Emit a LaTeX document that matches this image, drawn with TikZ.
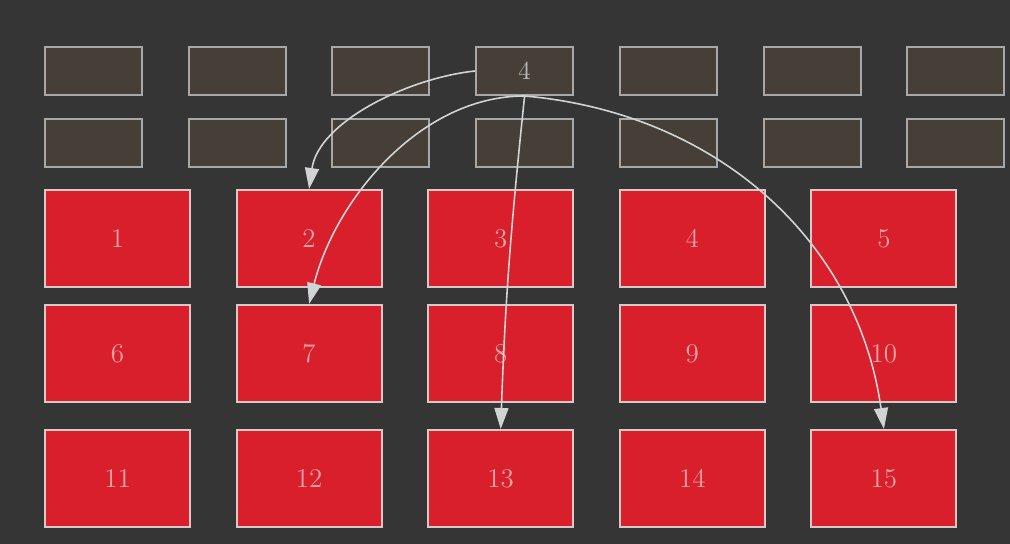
\documentclass[tikz,border=0pt]{standalone}
\usetikzlibrary{arrows.meta}

\definecolor{bgc}{HTML}{353535}
\definecolor{slotfill}{HTML}{453F37}
\definecolor{slotline}{HTML}{A8A8A8}
\definecolor{cellred}{HTML}{DA1F2C}
\definecolor{cellline}{HTML}{D8C8C8}
\definecolor{celltext}{HTML}{E8A4A4}
\definecolor{arrowc}{HTML}{D0D4D4}

\begin{document}
\begin{tikzpicture}[x=0.5pt, y=-0.5pt, >={Triangle[length=10.5pt,width=7pt]},
  slot/.style={draw=slotline, fill=slotfill, line width=1pt,
    minimum width=48.5pt, minimum height=24pt, inner sep=0pt,
    text=slotline!80!white, font=\fontsize{13}{15}\selectfont},
  cell/.style={draw=cellline, fill=cellred, line width=1pt,
    minimum width=72.5pt, minimum height=48.5pt, inner sep=0pt,
    text=celltext, font=\fontsize{13.5}{15}\selectfont},
  link/.style={->, draw=arrowc, line width=0.8pt}]

  % 背景
  \fill[bgc] (0,0) rectangle (1010,544);

  % 上の二段 (小さい箱)
  \foreach \i in {1,2,3,5,6,7}
    \node[slot] (t\i) at ({93.5+143.7*(\i-1)},71) {};
  \node[slot] (t4) at ({93.5+143.7*3},71) {4};
  \foreach \i in {1,...,7}
    \node[slot] (s\i) at ({93.5+143.7*(\i-1)},143) {};

  % 赤い箱 (3 x 5)
  \foreach \r/\y in {0/238.5, 1/353.5, 2/478.5}
    \foreach \c in {1,...,5} {
      \pgfmathtruncatemacro\n{5*\r+\c}
      \node[cell] (c\n) at ({117.5+191.6*(\c-1)},\y) {\n};
    }

  % 矢印 (箱 4 から)
  \draw[link] (t4.west) to[out=186, in=82, looseness=0.85] (c2.north);
  \draw[link] (t4.south) to[out=180, in=76, looseness=0.9] (c7.north);
  \draw[link] (t4.south) to[out=264, in=88] (c13.north);
  \draw[link] (t4.south) to[out=-5, in=98] (c15.north);

\end{tikzpicture}
\end{document}
